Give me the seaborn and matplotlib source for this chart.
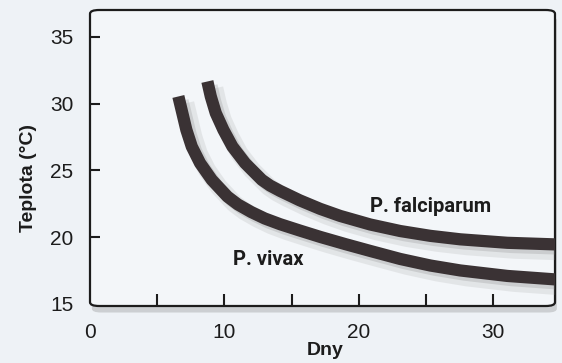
import numpy as np
import pandas as pd
import matplotlib
matplotlib.use("Agg")
import matplotlib.pyplot as plt
import matplotlib.patheffects as pe
from matplotlib.patches import FancyBboxPatch
import seaborn as sns

# ---- data ----
vivax_days = [6.575, 6.873, 7.170, 7.573, 8.191, 9.062, 10.223, 11.0, 12.0, 13.0,
              14.15, 15.6, 17.13, 19.0, 20.85, 23.08, 25.32, 27.55, 31.05, 34.62]
vivax_temp = [30.53, 29.28, 28.03, 26.78, 25.54, 24.29, 23.04, 22.45, 21.88, 21.40,
              20.97, 20.50, 20.02, 19.48, 18.97, 18.37, 17.88, 17.51, 17.10, 16.84]
falc_days = [8.734, 8.987, 9.360, 9.926, 10.596, 11.541, 12.785, 13.4, 14.147, 15.6,
             17.126, 18.615, 20.849, 23.083, 25.316, 27.55, 31.05, 34.624]
falc_temp = [31.65, 30.53, 29.28, 28.03, 26.78, 25.54, 24.29, 23.86, 23.46, 22.76,
             22.12, 21.59, 20.95, 20.46, 20.10, 19.84, 19.58, 19.46]
species = ["P. vivax", "P. falciparum"]
x_ticklabels = [0, 10, 20, 30]
x_minor = [5, 10, 15, 20, 25, 30]
y_ticklabels = [15, 20, 25, 30, 35]
y_minor = [20, 25, 30, 35]

df = pd.concat([
    pd.DataFrame({"Dny": vivax_days, "Teplota": vivax_temp, "druh": species[0]}),
    pd.DataFrame({"Dny": falc_days, "Teplota": falc_temp, "druh": species[1]}),
], ignore_index=True)

sns.set_theme(style="white")
plt.rcParams["font.family"] = ["Liberation Sans", "DejaVu Sans"]

bg = "#eef2f6"
fig = plt.figure(figsize=(5.62, 3.63), dpi=100, facecolor=bg)
ax = fig.add_axes([90/562, 57/363, 465/562, 296/363])
ax.set_facecolor("none")

line_color = "#3a3234"
sns.lineplot(data=df, x="Dny", y="Teplota", hue="druh", palette=[line_color, line_color],
             sort=False, legend=False, ax=ax, linewidth=8.8, estimator=None)
for ln in ax.lines:
    ln.set_solid_capstyle("butt")
    ln.set_solid_joinstyle("round")
    ln.set_path_effects([
        pe.SimpleLineShadow(offset=(5, -5), shadow_color="#9a9a9a", alpha=0.18, linewidth=13),
        pe.SimpleLineShadow(offset=(3, -3), shadow_color="#7a7a7a", alpha=0.22),
        pe.Normal()])

ax.set_xlim(0, 34.6)
ax.set_ylim(14.85, 37.0)

for s in ax.spines.values():
    s.set_visible(False)

asp = 465 / 296
shadow = FancyBboxPatch((0.004, -0.022), 1.0, 1.0, boxstyle="round,pad=0,rounding_size=0.02",
                        mutation_aspect=1/asp, transform=ax.transAxes, clip_on=False,
                        facecolor="#8f8f8f", edgecolor="none", alpha=0.35, zorder=0)
ax.add_patch(shadow)
box = FancyBboxPatch((0, 0), 1, 1, boxstyle="round,pad=0,rounding_size=0.02",
                     mutation_aspect=1/asp, transform=ax.transAxes, clip_on=False,
                     facecolor="#f3f6f9", edgecolor="#1c1c1c", linewidth=1.6, zorder=0.5)
ax.add_patch(box)

ax.xaxis.remove_overlapping_locs = False
ax.yaxis.remove_overlapping_locs = False
ax.set_xticks(x_ticklabels)
ax.set_xticklabels([str(v) for v in x_ticklabels])
ax.set_xticks(x_minor, minor=True)
ax.set_yticks(y_ticklabels)
ax.set_yticklabels([str(v) for v in y_ticklabels])
ax.set_yticks(y_minor, minor=True)
ax.tick_params(axis="both", which="major", length=0, labelsize=15, colors="#1c1c1c")
ax.tick_params(axis="x", which="major", pad=12)
ax.tick_params(axis="y", which="major", pad=12)
ax.tick_params(axis="both", which="minor", direction="in", width=1.5, color="#1c1c1c")
ax.tick_params(axis="x", which="minor", length=9, bottom=True)
ax.tick_params(axis="y", which="minor", length=7, left=True)

ax.set_xlabel("Dny", fontsize=14, fontweight="bold", color="#1c1c1c")
ax.set_ylabel("Teplota (°C)", fontsize=14, fontweight="bold", color="#1c1c1c")
ax.xaxis.set_label_coords(0.505, -0.12)
ax.yaxis.set_label_coords(-0.115, 0.432)

ax.text(20.85, 21.89, species[1], fontsize=14.5, fontweight="bold", family=["Roboto", "DejaVu Sans"],
        va="baseline", ha="left", color="#1c1c1c")
ax.text(10.65, 17.92, species[0], fontsize=14.5, fontweight="bold", family=["Roboto", "DejaVu Sans"],
        va="baseline", ha="left", color="#1c1c1c")

fig.savefig("out.png", dpi=100, facecolor=bg)
